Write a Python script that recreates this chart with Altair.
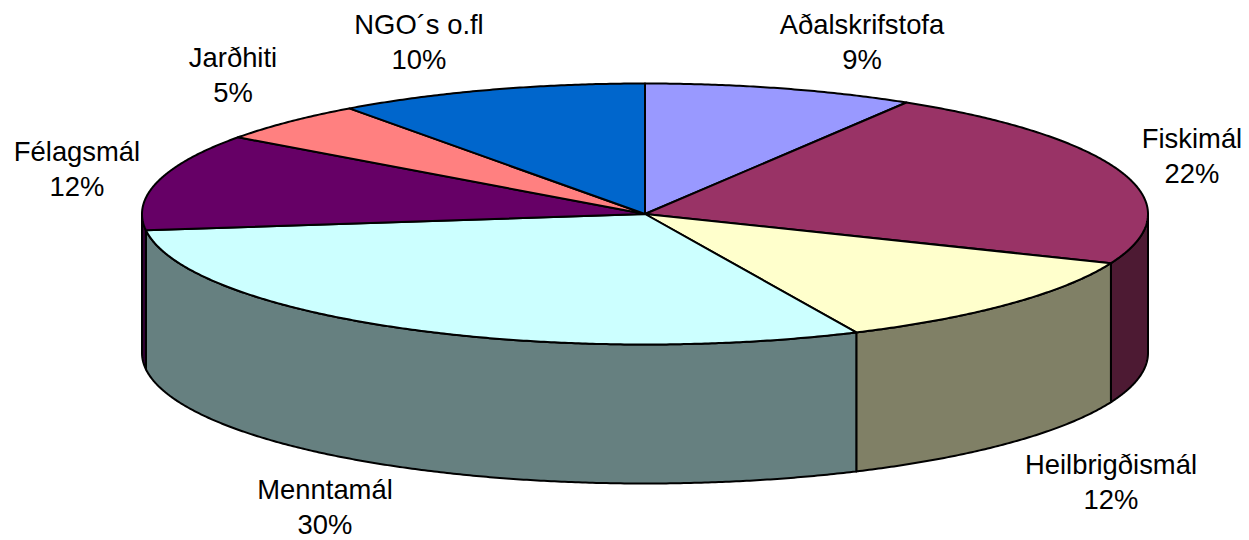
import math
import altair as alt
import pandas as pd

names = ["Aðalskrifstofa", "Fiskimál", "Heilbrigðismál", "Menntamál", "Félagsmál", "Jarðhiti", "NGO´s o.fl"]
shares = [8.7, 22.45, 11.95, 29.9, 12.0, 5.0, 10.0]
top_colors = ["#9999FF", "#993366", "#FFFFCC", "#CCFFFF", "#660066", "#FF8080", "#0066CC"]
side_colors = ["#4D4D80", "#4D1A33", "#808066", "#668080", "#330033", "#804040", "#003366"]

# label centres of the first line, in page pixels
label_cx = [862, 1192, 1111, 325, 77, 233, 419]
label_cy = [26, 140, 466, 491, 153, 59, 26]
LINE_GAP = 35

# pie geometry, in page pixels
CX, CY, RX, RY, DEPTH = 645, 214, 503, 130.5, 139
PAGE = 8
N = 4  # one boundary vertex per this many tenths of a degree


def pt(deg, drop=0):
    a = math.radians(deg)
    return [CX + RX * math.sin(a) - PAGE, CY - RY * math.cos(a) + drop - PAGE]


def arc(a, b):
    steps = max(2, int(abs(b - a) * 10 / N))
    return [a + (b - a) * i / steps for i in range(steps + 1)]


def feature(ring, fill, order):
    return {
        "type": "Feature",
        "geometry": {"type": "Polygon", "coordinates": [ring + [ring[0]]]},
        "properties": {"fill": fill, "order": order},
    }


features = []
start = 0.0
wedges = []
for share, top, side in zip(shares, top_colors, side_colors):
    end = start + share * 3.6
    wedges.append((start, end, top, side))
    start = end

# walls of the near half of the drum
for s, e, top, side in wedges:
    a, b = max(s, 90), min(e, 270)
    if a < b:
        front = [pt(d) for d in arc(a, b)]
        back = [pt(d, DEPTH) for d in reversed(arc(a, b))]
        features.append(feature(front + back, side, len(features)))

# top faces
for s, e, top, side in wedges:
    ring = [[CX - PAGE, CY - PAGE]] + [pt(d) for d in arc(s, e)]
    features.append(feature(ring, top, len(features)))

proj = dict(type="identity", scale=1, translate=[0, 0])

pie = (
    alt.Chart(alt.Data(values=features))
    .mark_geoshape(stroke="#000000", strokeWidth=2, strokeJoin="round")
    .encode(fill=alt.Fill("properties.fill:N", scale=None), order="properties.order:Q")
    .project(**proj)
)

rows = []
for name, share, cx, cy in zip(names, shares, label_cx, label_cy):
    rows.append({"text": name, "lon": cx - PAGE, "lat": cy - PAGE})
    rows.append({"text": f"{round(share)}%", "lon": cx - PAGE, "lat": cy + LINE_GAP - PAGE})

labels = (
    alt.Chart(pd.DataFrame(rows))
    .mark_text(font="Liberation Sans", fontSize=27.4, color="#000000", align="center", baseline="middle")
    .encode(longitude="lon:Q", latitude="lat:Q", text="text:N")
    .project(**proj)
)

chart = (
    alt.layer(pie, labels)
    .properties(width=1233, height=532, padding=0, autosize=alt.AutoSizeParams(type="none"))
    .configure_view(stroke=None)
    .configure(background="#FFFFFF")
)
chart.save("out.html", embed_options={"renderer": "svg", "actions": False})
